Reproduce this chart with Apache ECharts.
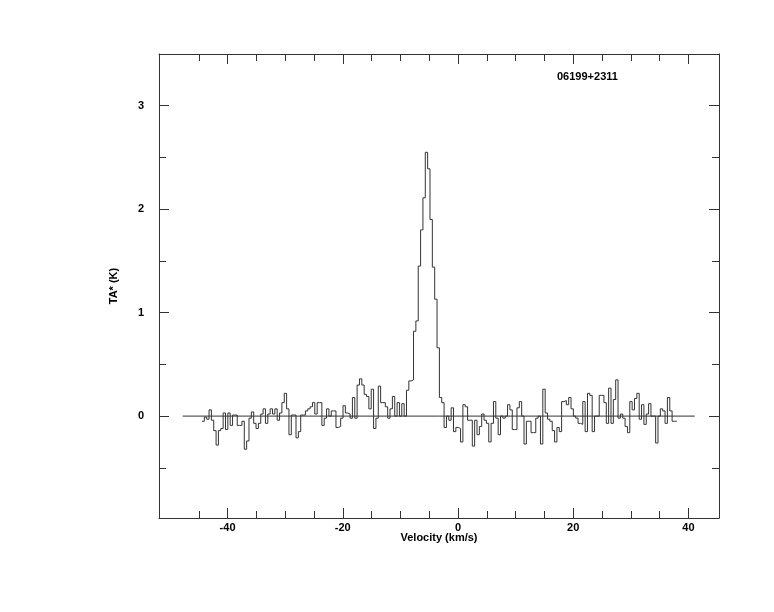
<!DOCTYPE html>
<html><head><meta charset="utf-8">
<script src="https://cdn.jsdelivr.net/npm/echarts@6/dist/echarts.min.js"></script>
<style>html,body{margin:0;padding:0;background:#fff}#c{width:774px;height:612px}</style>
</head><body><div id="c"></div>
<script>
const sourceName = '06199+2311';
const xName = 'Velocity (km/s)';
const yName = 'TA* (K)';
// channel grid: left edge of first channel and channel width (km/s)
const v0 = -44.44;
const dv = 0.408;
// antenna temperature per channel (K)
const ta = [
-0.05,-0.01,-0.03,0.06,-0.04,-0.14,-0.28,-0.14,-0.12,0.03,
-0.13,0.03,-0.09,0.01,0.01,-0.09,-0.09,-0.05,-0.32,-0.24,
-0.02,0.04,-0.07,-0.12,-0.07,0.02,0.07,-0.07,0.02,0.07,
0.02,0.07,-0.04,0.03,0.13,0.22,0.07,-0.18,0.01,0.01,
-0.21,-0.15,0.01,0.01,0.05,0.07,0.09,0.13,0.02,0.13,
0.13,-0.09,-0.02,0.07,0.00,0.05,0.05,-0.11,-0.10,-0.02,
0.10,0.03,0.02,-0.02,0.18,-0.02,0.30,0.36,0.30,0.21,
0.19,0.07,0.26,-0.12,-0.02,0.29,0.13,0.13,0.09,-0.02,
0.07,0.19,0.00,0.13,0.00,0.12,0.00,0.25,0.34,0.35,
0.82,0.92,1.45,1.80,2.11,2.55,2.39,1.90,1.44,1.13,
0.66,0.18,0.13,-0.11,0.00,-0.04,0.08,-0.15,-0.11,-0.12,
-0.25,0.11,0.09,-0.04,-0.04,-0.29,-0.04,-0.18,-0.10,0.02,
-0.04,-0.07,-0.25,-0.07,0.14,-0.02,-0.18,0.00,-0.02,0.00,
0.11,0.06,-0.13,-0.13,0.08,0.14,0.00,-0.27,-0.05,-0.05,
-0.16,-0.16,-0.02,0.00,-0.27,0.26,0.03,-0.03,-0.05,-0.14,
-0.25,-0.11,-0.15,0.14,0.15,0.11,0.18,0.07,0.00,-0.02,
-0.07,-0.08,0.14,-0.15,0.22,0.20,-0.15,0.00,0.00,0.20,
0.20,0.13,-0.07,0.27,-0.07,0.16,0.35,-0.02,0.02,-0.02,
-0.10,-0.16,0.14,0.06,0.17,0.22,-0.03,0.11,-0.08,0.02,
0.12,0.00,0.00,-0.26,0.00,0.07,0.05,-0.07,0.18,0.05,
-0.05,-0.05
];
const baselineX = [-47.8, 41.1];
const xRange = [-51.9, 45.3];
const yRange = [-0.985, 3.5];
const xMajor = [-40, -20, 0, 20, 40];
const xMinor = [-45, -35, -30, -25, -15, -10, -5, 5, 10, 15, 25, 30, 35];
const yMajor = [0, 1, 2, 3];
const yMinor = [-0.5, 0.5, 1.5, 2.5];

const steps = ta.map((t, i) => [v0 + dv * i, t]);
steps.push([v0 + dv * ta.length, ta[ta.length - 1]]);
const baseline = baselineX.map(x => [x, 0]);

const font = { fontFamily: 'Liberation Sans', fontWeight: 'bold', fontSize: 11, color: '#000' };
const lineCol = '#333';

function xAx(pos, ticks, len, labels, line) {
  return {
    type: 'value', position: pos, min: xRange[0], max: xRange[1],
    axisLine: { show: line, onZero: false, lineStyle: { color: lineCol, width: 1 } },
    axisTick: { show: true, inside: true, length: len, customValues: ticks, lineStyle: { color: lineCol } },
    axisLabel: labels ? Object.assign({ show: true, margin: 4, customValues: xMajor }, font) : { show: false },
    splitLine: { show: false },
    name: labels ? xName : '', nameLocation: 'middle', nameGap: 14, nameMoveOverlap: false,
    nameTextStyle: font
  };
}
function yAx(pos, ticks, len, labels, line) {
  return {
    type: 'value', position: pos, min: yRange[0], max: yRange[1],
    axisLine: { show: line, onZero: false, lineStyle: { color: lineCol, width: 1 } },
    axisTick: { show: true, inside: true, length: len, customValues: ticks, lineStyle: { color: lineCol } },
    axisLabel: labels ? Object.assign({ show: true, margin: 15, customValues: yMajor }, font) : { show: false },
    splitLine: { show: false },
    name: labels ? yName : '', nameLocation: 'middle', nameGap: 40, nameRotate: 90, nameMoveOverlap: false,
    nameTextStyle: font
  };
}

const chart = echarts.init(document.getElementById('c'), null, { renderer: 'canvas' });
chart.setOption({
  animation: false,
  backgroundColor: '#fff',
  title: { text: sourceName, left: 552, top: 66, textStyle: font },
  grid: { left: 159, right: 55, top: 54, bottom: 94, containLabel: false },
  xAxis: [
    xAx('bottom', xMajor, 10, true, true),
    xAx('bottom', xMinor, 7, false, false),
    xAx('top', xMajor, 10, false, true),
    xAx('top', xMinor, 7, false, false)
  ],
  yAxis: [
    yAx('left', yMajor, 10, true, true),
    yAx('left', yMinor, 7, false, false),
    yAx('right', yMajor, 10, false, true),
    yAx('right', yMinor, 7, false, false)
  ],
  series: [
    { type: 'line', data: baseline, showSymbol: false, xAxisIndex: 0, yAxisIndex: 0,
      lineStyle: { color: lineCol, width: 1 }, silent: true },
    { type: 'line', data: steps, step: 'end', showSymbol: false, xAxisIndex: 0, yAxisIndex: 0,
      lineStyle: { color: lineCol, width: 1 }, silent: true }
  ]
});
</script></body></html>
